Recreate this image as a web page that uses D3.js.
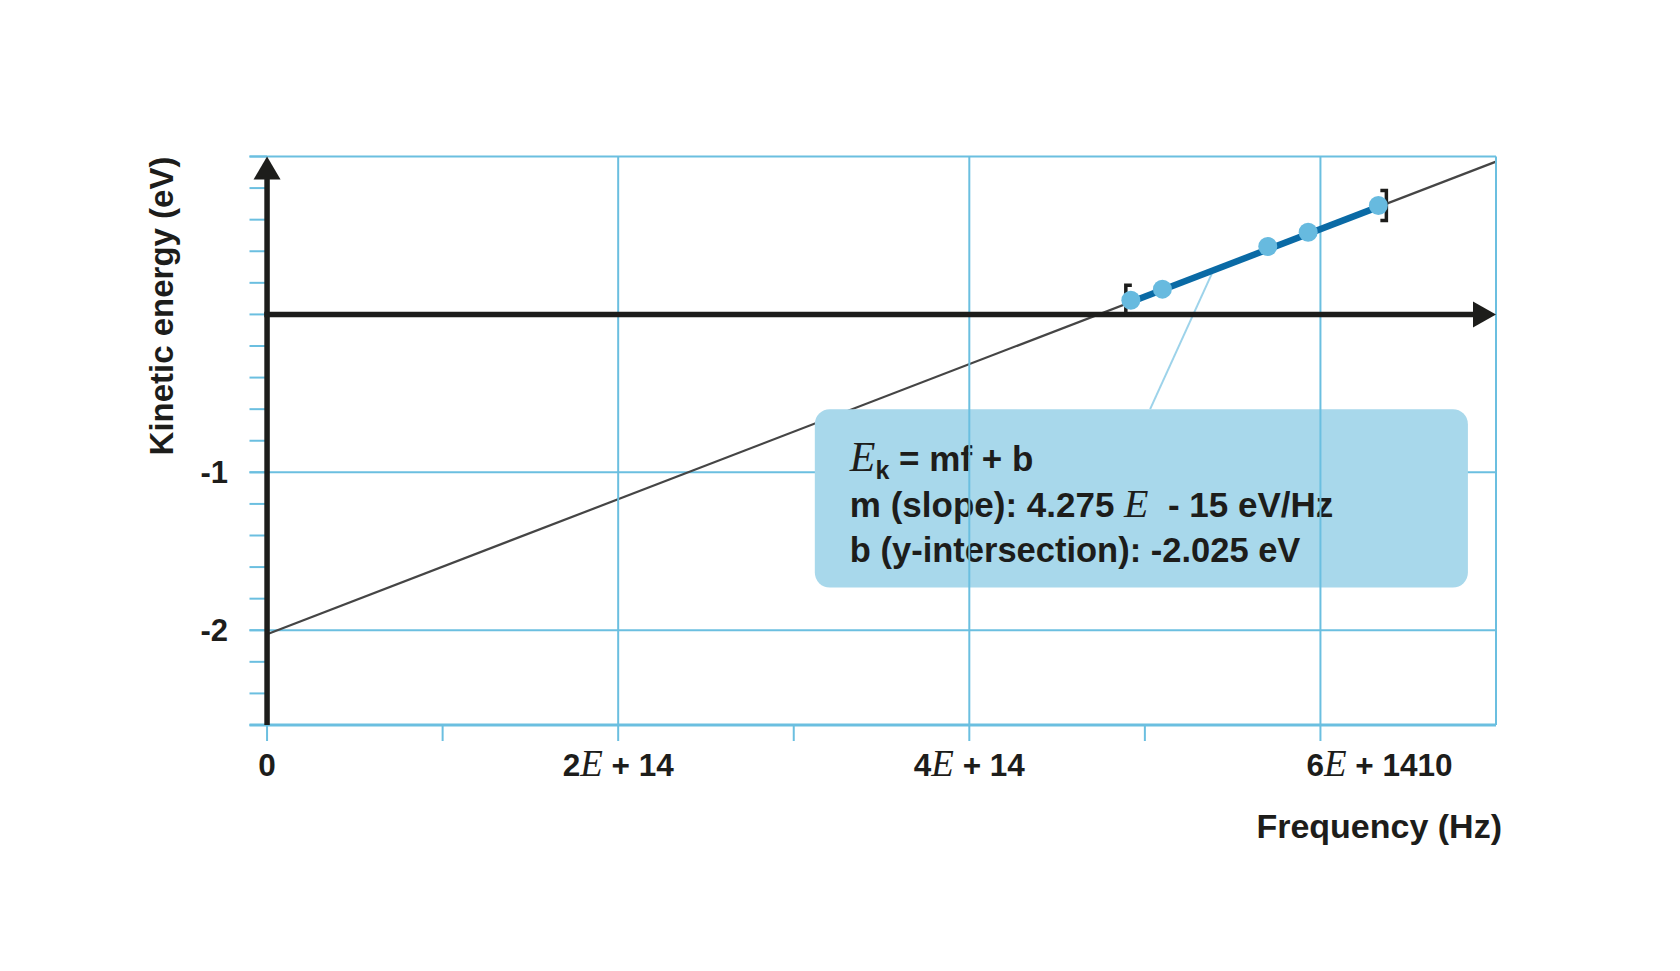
<!DOCTYPE html>
<html>
<head>
<meta charset="utf-8">
<script src="https://cdn.jsdelivr.net/npm/d3@7"></script>
<style>
  body { margin: 0; background: #fff; }
  text { font-family: "Liberation Sans", Arial, sans-serif; font-weight: bold; fill: #1d1d1b; }
  .math { font-family: "Liberation Serif", "Times New Roman", serif; font-style: italic; font-weight: normal; }
</style>
</head>
<body>
<div id="chart"></div>
<script>
// measured points (frequency in Hz, kinetic energy in eV)
const freq = [4.92e14, 5.10e14, 5.70e14, 5.93e14, 6.33e14];
const energy = [0.09, 0.16, 0.43, 0.52, 0.69];

// fit result
const slope = 4.275e-15;
const intercept = -2.025;

const xTickVals = [0, 1e14, 2e14, 3e14, 4e14, 5e14, 6e14];
const xLabelVals = [0, 2e14, 4e14, 6e14];
const xLabels = [['0'], ['2', 'E', ' + 14'], ['4', 'E', ' + 14'], ['6', 'E', ' + 1410']];
const yMinorVals = d3.range(-26, 11, 2).map(d => d / 10);
const yGridVals = [1, -1, -2, -2.6];
const yLabelVals = [-1, -2];
const yLabels = ['-1', '-2'];

const w = 1680, h = 971;
const grid = '#6bbfe0';

const svg = d3.select('#chart').append('svg')
  .attr('width', w)
  .attr('height', h);

const x = d3.scaleLinear().domain([-0.1e14, 7e14]).range([249.5, 1496]);
const y = d3.scaleLinear().domain([-2.6, 1.0]).range([725, 156.5]);

const x0 = x(0), y0 = y(0);
const fit = f => slope * f + intercept;

// horizontal grid + left minor ticks
svg.append('g').selectAll('line')
  .data(yGridVals)
  .join('line')
  .attr('x1', x.range()[0]).attr('x2', x.range()[1])
  .attr('y1', d => y(d)).attr('y2', d => y(d))
  .attr('stroke', grid)
  .attr('stroke-width', d => d === -2.6 ? 3 : 2);

svg.append('g').selectAll('line')
  .data(yMinorVals)
  .join('line')
  .attr('x1', x.range()[0]).attr('x2', x0)
  .attr('y1', d => y(d)).attr('y2', d => y(d))
  .attr('stroke', grid)
  .attr('stroke-width', 2);

// bottom ticks
svg.append('g').selectAll('line')
  .data(xTickVals)
  .join('line')
  .attr('x1', d => x(d)).attr('x2', d => x(d))
  .attr('y1', y(-2.6)).attr('y2', y(-2.6) + 16)
  .attr('stroke', grid)
  .attr('stroke-width', 2);

// fitted line
svg.append('line')
  .attr('x1', x(0)).attr('y1', y(fit(0)))
  .attr('x2', x(7e14)).attr('y2', y(fit(7e14)))
  .attr('stroke', '#454545')
  .attr('stroke-width', 2.2);

// callout line + box
const calloutF = 5.39e14;
const box = { f0: 3.12e14, f1: 6.84e14, e0: -0.60, e1: -1.73 };
svg.append('line')
  .attr('x1', x(calloutF)).attr('y1', y(fit(calloutF)))
  .attr('x2', x(5.03e14)).attr('y2', y(box.e0))
  .attr('stroke', '#9dd3ea')
  .attr('stroke-width', 2);

svg.append('rect')
  .attr('x', x(box.f0)).attr('y', y(box.e0))
  .attr('width', x(box.f1) - x(box.f0))
  .attr('height', y(box.e1) - y(box.e0))
  .attr('rx', 15)
  .attr('fill', '#a8d8eb');

const tx = x(box.f0) + 35;
const t1 = svg.append('text').attr('x', tx).attr('y', y(box.e0) + 62).style('font-size', '35px');
t1.append('tspan').attr('class', 'math').style('font-size', '42px').text('E');
t1.append('tspan').style('font-size', '25px').attr('dy', 8).text('k');
t1.append('tspan').attr('dy', -8).style('white-space', 'pre').text(' = mf + b');

const t2 = svg.append('text').attr('x', tx).attr('y', y(box.e0) + 108)
  .style('font-size', '35px').style('white-space', 'pre');
t2.append('tspan').text('m (slope): 4.275 ');
t2.append('tspan').attr('class', 'math').style('font-size', '40px').text('E');
t2.append('tspan').text('  - 15 eV/Hz');

svg.append('text').attr('x', tx).attr('y', y(box.e0) + 153)
  .style('font-size', '34.5px')
  .text('b (y-intersection): -2.025 eV');

// vertical grid (drawn over the box)
svg.append('g').selectAll('line')
  .data([2e14, 4e14, 6e14, 7e14])
  .join('line')
  .attr('x1', d => x(d)).attr('x2', d => x(d))
  .attr('y1', y(1)).attr('y2', y(-2.6))
  .attr('stroke', grid)
  .attr('stroke-width', 2);

// black axes with arrows
const ink = '#1d1d1b';
svg.append('line')
  .attr('x1', x0).attr('x2', x0)
  .attr('y1', y(-2.6)).attr('y2', y(1) + 20)
  .attr('stroke', ink).attr('stroke-width', 5.5);
svg.append('path')
  .attr('d', `M${x0},${y(1)} L${x0 - 13.5},${y(1) + 23} L${x0 + 13.5},${y(1) + 23} Z`)
  .attr('fill', ink);

svg.append('line')
  .attr('x1', x0 - 2.75).attr('x2', x(7e14) - 20)
  .attr('y1', y0).attr('y2', y0)
  .attr('stroke', ink).attr('stroke-width', 5.5);
svg.append('path')
  .attr('d', `M${x(7e14)},${y0} L${x(7e14) - 23},${y0 - 13} L${x(7e14) - 23},${y0 + 13} Z`)
  .attr('fill', ink);

// thick fit segment over measured range
const fMin = d3.min(freq), fMax = d3.max(freq);
svg.append('line')
  .attr('x1', x(fMin)).attr('y1', y(fit(fMin)))
  .attr('x2', x(fMax)).attr('y2', y(fit(fMax)))
  .attr('stroke', '#0a6aa5')
  .attr('stroke-width', 6.5);

// brackets marking fit range
const bx1 = x(fMin) - 5, by1 = y(energy[0]);
svg.append('path')
  .attr('d', `M${bx1 + 6},${by1 - 15} H${bx1} V${by1 + 15} H${bx1 + 6}`)
  .attr('fill', 'none').attr('stroke', ink).attr('stroke-width', 3.5);
const bx2 = x(fMax) + 8, by2 = y(energy[energy.length - 1]);
svg.append('path')
  .attr('d', `M${bx2 - 6},${by2 - 15} H${bx2} V${by2 + 15} H${bx2 - 6}`)
  .attr('fill', 'none').attr('stroke', ink).attr('stroke-width', 3.5);

// points
svg.append('g').selectAll('circle')
  .data(freq)
  .join('circle')
  .attr('cx', d => x(d))
  .attr('cy', (d, i) => y(energy[i]))
  .attr('r', 9.5)
  .attr('fill', '#67badf');

// x tick labels
const xl = svg.append('g').selectAll('text')
  .data(xLabelVals)
  .join('text')
  .attr('x', (d, i) => i === 3 ? x(d) - 14 : x(d))
  .attr('y', 776)
  .attr('text-anchor', (d, i) => i === 3 ? 'start' : 'middle')
  .style('font-size', '31.5px')
  .style('white-space', 'pre');
xl.each(function (d, i) {
  const t = d3.select(this);
  xLabels[i].forEach((part, j) => {
    const s = t.append('tspan').text(part);
    if (j === 1) s.attr('class', 'math').style('font-size', '37px');
  });
});

// y tick labels
svg.append('g').selectAll('text')
  .data(yLabelVals)
  .join('text')
  .attr('x', 228)
  .attr('y', d => y(d))
  .attr('dy', '0.35em')
  .attr('text-anchor', 'end')
  .style('font-size', '31px')
  .text((d, i) => yLabels[i]);

// axis titles
svg.append('text')
  .attr('x', 1502).attr('y', 838)
  .attr('text-anchor', 'end')
  .style('font-size', '34px')
  .text('Frequency (Hz)');

svg.append('text')
  .attr('transform', 'translate(173,306) rotate(-90)')
  .attr('text-anchor', 'middle')
  .style('font-size', '33px')
  .text('Kinetic energy (eV)');
</script>
</body>
</html>
